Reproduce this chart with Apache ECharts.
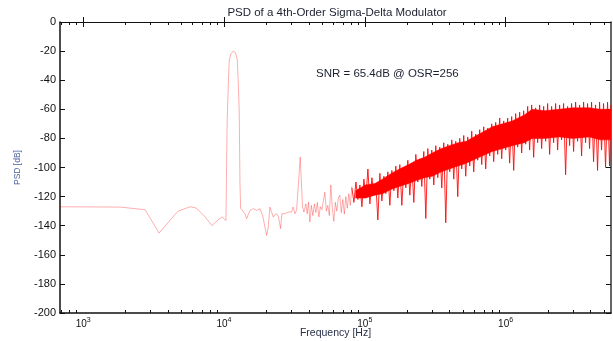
<!DOCTYPE html>
<html><head><meta charset="utf-8">
<script src="https://cdn.jsdelivr.net/npm/echarts@6/dist/echarts.min.js"></script>
<style>html,body{margin:0;padding:0;background:#fff}#c{width:613px;height:341px}</style>
</head><body><div id="c"></div>
<script>
const titleText = 'PSD of a 4th-Order Sigma-Delta Modulator';
const noteText = 'SNR = 65.4dB @ OSR=256';
const xName = 'Frequency [Hz]';
const yName = 'PSD [dB]';
const xMin = 685, xMax = 5.6e6;
const yMin = -200, yMax = 0, yStep = 20;
const xMajorTicks = [1e3, 1e4, 1e5, 1e6];
const xMajorExponents = ['3', '4', '5', '6'];
const xMinorTicks = [700, 800, 900,
  2e3, 3e3, 4e3, 5e3, 6e3, 7e3, 8e3, 9e3,
  2e4, 3e4, 4e4, 5e4, 6e4, 7e4, 8e4, 9e4,
  2e5, 3e5, 4e5, 5e5, 6e5, 7e5, 8e5, 9e5,
  2e6, 3e6, 4e6, 5e6];

// low-frequency part (thin, light trace)
const freqLow = [685, 1829, 2752, 3459, 4718, 5740, 6330, 7214, 8222, 9067, 9678, 10332,
  10416, 10536, 10763, 10905, 11209, 11641, 12063, 12431, 12669, 12837, 12985, 13133,
  13351, 14091, 14488, 15291, 16137, 17058, 18000, 18815, 19535, 20083, 20617, 21201,
  21797, 22371, 23377, 24270, 25236, 25776, 27080, 28576, 30204, 31000, 31874, 32775,
  34198, 34762, 35335, 36156, 36931, 38158, 38975, 39874, 40728,
  41738, 42773, 43833, 44920, 46034, 47175, 48345, 49543, 50771, 52030, 53320, 54642,
  55997, 57385, 58808, 60266, 61760, 63291, 64860, 66468, 68116, 69805, 71536, 73309,
  75127, 76989, 78898, 81000];
const psdLow = [-127, -127.2, -129, -145, -130, -127, -127.8, -133, -140, -136, -134, -136.5,
  -107, -68, -40, -26, -22, -20, -21, -26, -45, -62, -110, -128,
  -128.3, -131.8, -135.2, -129.5, -128.3, -129.5, -128.3, -133, -141, -146.7, -141, -127.2,
  -126, -134, -131.8, -133, -142, -131.8, -131.8, -130.6, -130.6, -127.2, -131.8, -129.5,
  -104, -92.8, -93.5, -127, -130.6, -125, -131.8, -123.8, -137.5,
  -126, -133, -125, -131, -124, -134, -127, -129, -123, -117, -130, -126,
  -133, -112, -128, -137, -124, -130, -121, -119, -131, -122, -132, -120,
  -128, -118, -126, -113];

// high-frequency shaped noise (dense trace)
const freqHigh = [81000, 83700, 86500, 89300, 92300, 95400, 98500, 101800, 105200, 108700,
  112300, 116000, 119800, 123800, 127900, 132200, 136600, 141100, 145800, 150600,
  155600, 160800, 166100, 171600, 177300, 183200, 189300, 195600, 202100, 208800,
  215700, 222900, 230300, 237900, 245800, 254000, 262400, 271100, 280100, 289400,
  299000, 308900, 319200, 329800, 340700, 352000, 363700, 375800, 388300, 401200,
  414500, 428200, 442400, 457100, 472300, 488000, 504200, 520900, 538200, 556100,
  574500, 593600, 613300, 633700, 654700, 676400, 698900, 722100, 746100, 770800,
  796400, 822800, 850100, 878300, 907500, 937600, 968700, 1001000, 1034000, 1068000,
  1104000, 1141000, 1178000, 1218000, 1258000, 1300000, 1343000, 1388000, 1434000, 1481000,
  1530000, 1581000, 1634000, 1688000, 1744000, 1802000, 1862000, 1923000, 1987000, 2053000,
  2121000, 2192000, 2264000, 2340000, 2417000, 2497000, 2580000, 2666000, 2755000, 2846000,
  2940000, 3038000, 3139000, 3243000, 3351000, 3462000, 3577000, 3696000, 3818000, 3945000,
  4076000, 4211000, 4351000, 4495000, 4645000, 4799000, 4958000, 5123000, 5293000, 5469000,
  5600000];
const psdHigh = [-114, -124, -110, -122, -112, -127, -108, -121, -101, -125,
  -107, -119, -111, -136, -104, -123, -106, -118, -103, -126,
  -102, -116, -99, -121, -98, -126, -100, -114, -95, -119,
  -97, -124, -91, -110, -94, -113, -89, -135, -87, -108,
  -88, -112, -85, -107, -86, -114, -83, -138, -84, -103,
  -81, -108, -82, -120, -80, -101, -78, -106, -79, -99,
  -75, -103, -77, -95, -74, -98, -72, -101, -73, -92,
  -70, -96, -69, -91, -66, -94, -68, -88, -66, -97,
  -65, -102, -63, -86, -62, -90, -61, -84, -58, -88,
  -57, -93, -59, -83, -57, -87, -58, -82, -56, -91,
  -58, -83, -56, -88, -57, -81, -56, -105, -58, -85,
  -56, -89, -55, -82, -57, -92, -55, -83, -56, -87,
  -55, -96, -57, -102, -55, -88, -56, -100, -55, -99,
  -57];

// solid core of the noise band (where the trace overlaps into a filled red region)
const coreFreq = [85800, 101000, 118000, 133300, 155000, 176000, 205000, 232300, 265000, 301600,
  350000, 398100, 460000, 525600, 649800, 803500, 950000, 1114000, 1355000, 1544000,
  1900000, 2399000, 3000000, 3916000, 4700000, 5600000];
const coreTop = [-116, -112, -111, -108, -104, -101, -98, -95, -93, -90,
  -87, -85, -83, -82, -77, -72, -70, -68, -64, -60,
  -61, -60, -59, -59, -60, -60];
const coreBottom = [-121, -121, -119, -118, -115, -113, -111, -109, -107, -106,
  -103, -101, -99, -97, -93, -89, -87, -85, -83, -80,
  -80, -79, -80, -79, -81, -81];

const FONT = '"Liberation Sans", Arial, Helvetica, sans-serif';
const AXC = '#111';

function xAxisBase(pos, extra) {
  return Object.assign({
    type: 'log', logBase: 10, position: pos, min: xMin, max: xMax,
    splitLine: { show: false }, minorTick: { show: false },
    axisLine: { show: false },
    axisLabel: { show: false },
    axisTick: { show: true, inside: true, length: 3, lineStyle: { color: AXC, width: 1 }, customValues: xMinorTicks }
  }, extra || {});
}

const chart = echarts.init(document.getElementById('c'), null, { renderer: 'canvas' });
chart.setOption({
  animation: false,
  backgroundColor: '#fff',
  grid: { left: 60, right: 2, top: 22, bottom: 28, outerBoundsMode: 'none', containLabel: false },
  graphic: [
    { type: 'text', x: 337, y: 13, style: { text: titleText, font: '11.5px ' + FONT, fill: '#1c2030', align: 'center', verticalAlign: 'middle' } },
    { type: 'text', x: 316, y: 74, style: { text: noteText, font: '11.5px ' + FONT, fill: '#1c2030', align: 'left', verticalAlign: 'middle' } }
  ],
  xAxis: [
    xAxisBase('bottom', {
      axisLine: { show: true, onZero: false, lineStyle: { color: AXC, width: 1.5 } },
      name: xName, nameLocation: 'middle', nameGap: 15,
      nameTextStyle: { fontFamily: FONT, fontSize: 10.5, color: '#28304a' }
    }),
    xAxisBase('bottom', {
      axisTick: { show: true, inside: true, length: 5, lineStyle: { color: AXC, width: 1 }, customValues: xMajorTicks },
      axisLabel: {
        show: true, margin: 4, customValues: xMajorTicks,
        formatter: function (v) {
          const i = xMajorTicks.indexOf(v);
          return i < 0 ? '' : '{b|10}{s|' + xMajorExponents[i] + '}';
        },
        rich: {
          b: { fontFamily: FONT, fontSize: 10, color: AXC, lineHeight: 12, verticalAlign: 'bottom' },
          s: { fontFamily: FONT, fontSize: 7, color: AXC, lineHeight: 12, verticalAlign: 'top' }
        }
      }
    }),
    xAxisBase('top', { axisLine: { show: true, onZero: false, lineStyle: { color: AXC, width: 1 } } }),
    xAxisBase('top', { axisTick: { show: true, inside: true, length: 5, lineStyle: { color: AXC, width: 1 }, customValues: xMajorTicks } })
  ],
  yAxis: [
    {
      type: 'value', position: 'left', min: yMin, max: yMax, interval: yStep,
      splitLine: { show: false },
      axisLine: { show: true, onZero: false, lineStyle: { color: AXC, width: 1.5 } },
      axisTick: { show: true, inside: true, length: 5, lineStyle: { color: AXC } },
      axisLabel: { fontFamily: FONT, fontSize: 11, color: AXC, margin: 4 },
      name: yName, nameLocation: 'middle', nameGap: 38,
      nameTextStyle: { fontFamily: FONT, fontSize: 8.5, color: '#4d63a0' }
    },
    {
      type: 'value', position: 'right', min: yMin, max: yMax, interval: yStep,
      splitLine: { show: false },
      axisLine: { show: true, onZero: false, lineStyle: { color: '#333', width: 1.5 } },
      axisTick: { show: true, inside: true, length: 5, lineStyle: { color: AXC } },
      axisLabel: { show: false }
    }
  ],
  series: [
    {
      type: 'line', xAxisIndex: 0, yAxisIndex: 0, symbol: 'none', showSymbol: false, silent: true,
      data: freqLow.map((f, i) => [f, psdLow[i]]),
      lineStyle: { color: 'rgba(255,0,0,0.32)', width: 1 }, z: 2
    },
    {
      type: 'line', xAxisIndex: 0, yAxisIndex: 0, symbol: 'none', showSymbol: false, silent: true,
      stack: 'core', encode: { x: 1, y: 0 },
      data: coreFreq.map((f, i) => [coreTop[i], f]),
      lineStyle: { color: '#ff0000', width: 0.5 }, z: 1
    },
    {
      type: 'line', xAxisIndex: 0, yAxisIndex: 0, symbol: 'none', showSymbol: false, silent: true,
      stack: 'core', encode: { x: 1, y: 0 },
      data: coreFreq.map((f, i) => [coreBottom[i] - coreTop[i], f]),
      lineStyle: { color: '#ff0000', width: 0.5 },
      areaStyle: { color: '#ff0000', opacity: 1 }, z: 1
    },
    {
      type: 'line', xAxisIndex: 0, yAxisIndex: 0, symbol: 'none', showSymbol: false, silent: true,
      data: freqHigh.map((f, i) => [f, psdHigh[i]]),
      lineStyle: { color: 'rgba(255,0,0,0.85)', width: 1 }, z: 3
    }
  ]
});
</script></body></html>
